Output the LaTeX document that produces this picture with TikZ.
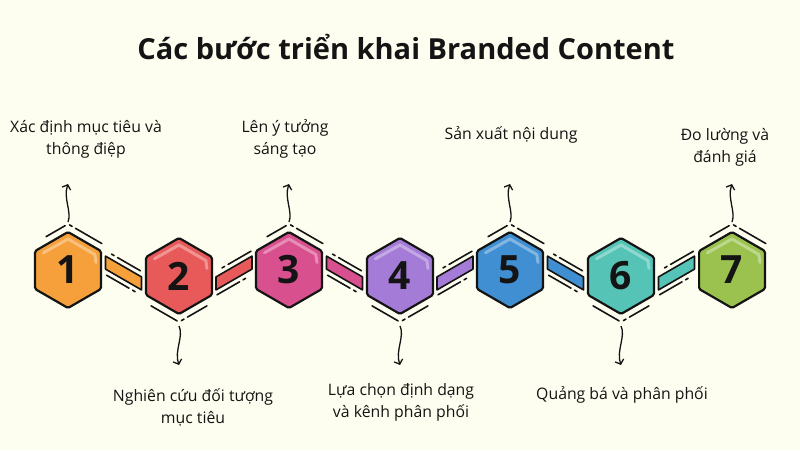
\documentclass[tikz,border=0pt]{standalone}
\usepackage{fontspec}
\setmainfont{Open Sans}
\usetikzlibrary{arrows.meta,calc,shapes.geometric}
\definecolor{bg}{HTML}{FEFEF0}
\definecolor{ink}{HTML}{141414}
\definecolor{c1}{HTML}{F5A03A}
\definecolor{c2}{HTML}{E85A5A}
\definecolor{c3}{HTML}{D9508E}
\definecolor{c4}{HTML}{A47BD6}
\definecolor{c5}{HTML}{3F8FD2}
\definecolor{c6}{HTML}{55C4B6}
\definecolor{c7}{HTML}{9BC24F}
\tikzset{
  hexnode/.style={regular polygon, regular polygon sides=6, shape border rotate=30,
    minimum size=76pt, inner sep=0pt, draw=ink, line width=2.2pt, rounded corners=1.5pt,
    font=\fontsize{39}{39}\selectfont\bfseries, text=ink},
  barshape/.style={draw=ink, line width=1.6pt, line join=round},
  accent/.style={draw=ink, line width=1.6pt, line cap=round},
  shine/.style={draw=white, opacity=0.35, line width=3pt, line cap=round, line join=round},
  wavy/.style={draw=ink, line width=1.3pt, -{Straight Barb[length=4pt,width=9pt,line width=1.3pt]}},
  lbl/.style={align=center, font=\fontsize{15.8}{22}\selectfont, text=ink, inner sep=0pt},
}
\begin{document}
\begin{tikzpicture}[x=1pt,y=-1pt]
\fill[bg] (0,0) rectangle (800,450);
\useasboundingbox (0,0) rectangle (800,450);

\node[font=\fontsize{29}{32}\selectfont\bfseries, text=ink] (title) at (406,47) {Các bước triển khai Branded Content};

% hexagons
\foreach \i/\x/\y/\c in {1/68/270/c1, 2/179/276/c2, 3/289/270/c3, 4/400/276/c4, 5/510/270/c5, 6/621/276/c6, 7/732/270/c7}{
  \node[hexnode, fill=\c] (h\i) at (\x,\y) {\i};
  \draw[shine] ($(h\i)+(215:30)$) -- ($(h\i)+(270:31)$) -- ($(h\i)+(330:31)$) -- ($(h\i)+(345:29)$);
}

% accents on outside of hexagons
\foreach \i in {1,3,5,7}{
  \draw[accent, dash pattern=on 22pt off 5pt on 3pt off 4pt on 40pt]
    ($($(h\i)+(210:46)$)!0.45!($(h\i)+(270:46)$)$) -- ($(h\i)+(270:46)$) -- ($($(h\i)+(270:46)$)!0.85!($(h\i)+(330:46)$)$);
}
\foreach \i in {2,4,6}{
  \draw[accent, dash pattern=on 30pt off 5pt on 3pt off 4pt on 40pt]
    ($($(h\i)+(150:46)$)!0.3!($(h\i)+(90:46)$)$) -- ($(h\i)+(90:46)$) -- ($($(h\i)+(90:46)$)!0.7!($(h\i)+(30:46)$)$);
}

% bars between hexagons
\foreach \a/\b/\s/\c in {1/2/1/c1, 2/3/-1/c2, 3/4/1/c3, 4/5/-1/c4, 5/6/1/c5, 6/7/-1/c6}{
  \coordinate (m\a) at ($(h\a)!0.5!(h\b)$);
  \draw[barshape, fill=\c] ($(m\a)+(-18,{-10.4*\s-6.5})$) -- ($(m\a)+(18,{10.4*\s-6.5})$)
     -- ($(m\a)+(18,{10.4*\s+6.5})$) -- ($(m\a)+(-18,{-10.4*\s+6.5})$) -- cycle;
  \draw[accent, dash pattern=on 3pt off 4pt on 40pt] ($(m\a)+(-12,{-6.9*\s-12})$) -- ($(m\a)+(17,{9.8*\s-12})$);
  \draw[accent, dash pattern=on 26pt off 4pt on 3pt] ($(m\a)+(-17,{-9.8*\s+12})$) -- ($(m\a)+(12,{6.9*\s+12})$);
}

% labels
\node[lbl] (l1) at (86,139) {Xác định mục tiêu và\\thông điệp};
\node[lbl] (l2) at (193,407) {Nghiên cứu đối tượng\\mục tiêu};
\node[lbl] (l3) at (285,139) {Lên ý tưởng\\sáng tạo};
\node[lbl] (l4) at (401,402) {Lựa chọn định dạng\\và kênh phân phối};
\node[lbl] (l5) at (511,135) {Sản xuất nội dung};
\node[lbl] (l6) at (622,395) {Quảng bá và phân phối};
\node[lbl] (l7) at (725,147) {Đo lường và\\đánh giá};

% wavy arrows
\foreach \i in {1,3,5,7}{
  \coordinate (t\i) at ($(h\i)+(0,-48)$);
  \coordinate (e\i) at ($(h\i)+(0,-86)$);
  \draw[wavy] (t\i) .. controls ($(t\i)+(4,-10)$) and ($(e\i)+(-5,14)$) .. (e\i);
}
\foreach \i in {2,4,6}{
  \coordinate (t\i) at ($(h\i)+(0,50)$);
  \coordinate (e\i) at ($(h\i)+(0,89)$);
  \draw[wavy] (t\i) .. controls ($(t\i)+(5,10)$) and ($(e\i)+(-5,-14)$) .. (e\i);
}
\end{tikzpicture}
\end{document}
